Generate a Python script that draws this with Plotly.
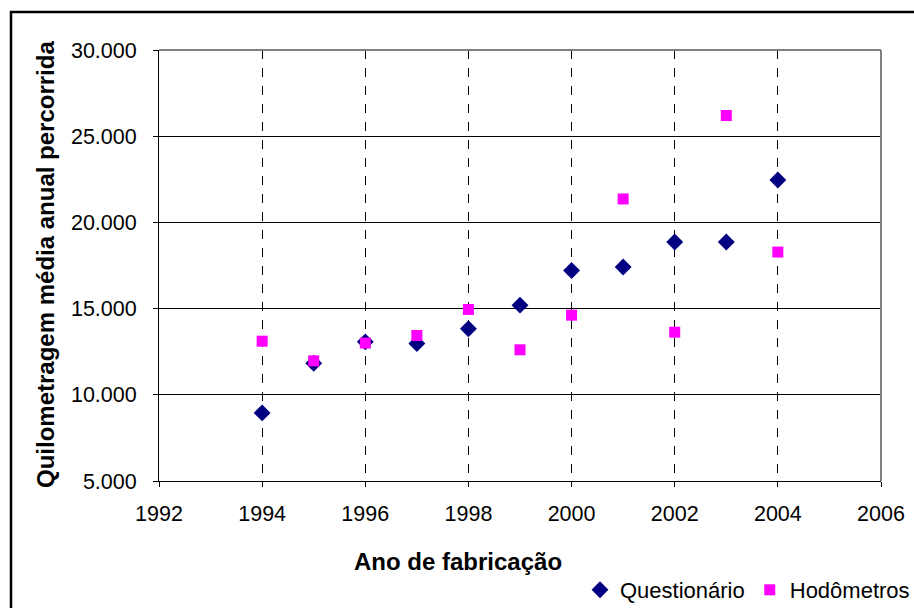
import plotly.graph_objects as go

anos = [1994, 1995, 1996, 1997, 1998, 1999, 2000, 2001, 2002, 2003, 2004]
questionario = [8950, 11830, 13070, 12970, 13830, 15200, 17210, 17410, 18860, 18860, 22460]
hodometros = [13110, 11970, 13000, 13440, 14950, 12610, 14620, 21360, 13630, 26200, 18280]

W, H = 914, 608
L, R, T, B = 159, 881, 50, 481

def px(x):
    return (x - L) / (R - L)

def py(y):
    return (B - y) / (B - T)

fig = go.Figure()
fig.add_trace(go.Scatter(x=anos, y=questionario, mode="markers", name="Questionário",
                         marker=dict(symbol="diamond", size=13, color="#000080")))
fig.add_trace(go.Scatter(x=anos, y=hodometros, mode="markers", name="Hodômetros",
                         marker=dict(symbol="square", size=11, color="#FF00FF")))

font = "Liberation Sans, Arial, sans-serif"

fig.update_layout(
    width=W, height=H,
    margin=dict(l=L, r=W - R, t=T, b=H - B, autoexpand=False),
    paper_bgcolor="white", plot_bgcolor="white",
    separators=",.",
    font=dict(family=font, size=21.5, color="black"),
    showlegend=True,
    legend=dict(orientation="h", x=px(915), xanchor="right", y=py(590), yanchor="middle",
                font=dict(size=22), itemwidth=30, tracegroupgap=0,
                bgcolor="rgba(0,0,0,0)"),
    xaxis=dict(range=[1992, 2006], tickvals=[1992, 1994, 1996, 1998, 2000, 2002, 2004, 2006],
               showgrid=True, gridcolor="black", griddash="dash", gridwidth=1,
               showline=True, linecolor="black", linewidth=1, mirror=False,
               ticks="outside", ticklen=5, tickcolor="black", zeroline=False,
               ticklabelstandoff=8, tickfont=dict(size=21.5)),
    yaxis=dict(range=[5000, 30000], tickvals=[5000, 10000, 15000, 20000, 25000, 30000],
               tickformat=",d",
               showgrid=True, gridcolor="black", gridwidth=1,
               showline=True, linecolor="black", linewidth=1,
               ticks="outside", ticklen=5, tickcolor="black", zeroline=False,
               ticklabelstandoff=12, tickfont=dict(size=21.5)),
    shapes=[
        dict(type="line", xref="paper", yref="paper", x0=0, x1=1, y0=1, y1=1,
             line=dict(color="#808080", width=2)),
        dict(type="line", xref="paper", yref="paper", x0=1, x1=1, y0=0, y1=1,
             line=dict(color="#808080", width=2)),
        dict(type="rect", xref="paper", yref="paper",
             x0=px(11), x1=px(918), y0=py(12), y1=py(612),
             line=dict(color="black", width=2.5), fillcolor="rgba(0,0,0,0)", layer="below"),
    ],
    annotations=[
        dict(text="<b>Ano de fabricação</b>", xref="paper", yref="paper",
             x=px(458), y=py(561), xanchor="center", yanchor="middle",
             showarrow=False, font=dict(size=24)),
        dict(text="<b>Quilometragem média anual percorrida</b>", xref="paper", yref="paper",
             x=px(45), y=py(265), xanchor="center", yanchor="middle", textangle=-90,
             showarrow=False, font=dict(size=24)),
    ],
)

fig.write_html("out.html", config={"displayModeBar": False},
               post_script="document.body.style.margin='0px';")
